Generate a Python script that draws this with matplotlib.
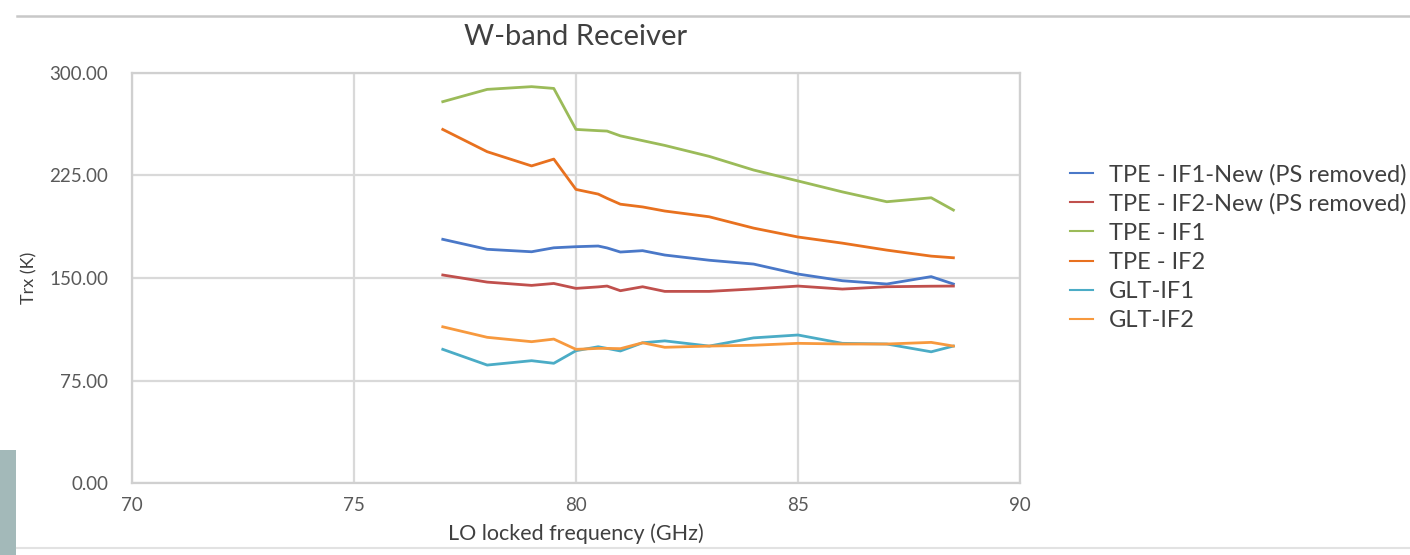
import matplotlib
matplotlib.use('Agg')
import matplotlib.pyplot as plt
from matplotlib.patches import Rectangle
from matplotlib.lines import Line2D

plt.rcParams['font.family'] = ['Lato', 'DejaVu Sans']

# LO frequencies (GHz) and receiver temperatures (K)
freq = [77, 78, 79, 79.5, 80, 80.5, 80.7, 81, 81.5, 82, 83, 84, 85, 86, 87, 88, 88.5]
tpe_if1_new = [178.3, 171.0, 169.2, 172.1, 172.9, 173.4, 172.0, 169.0, 170.0, 166.8,
               163.0, 160.2, 152.9, 148.0, 145.6, 151.0, 145.6]
tpe_if2_new = [152.2, 147.0, 144.6, 146.0, 142.4, 143.5, 144.1, 140.7, 143.6, 140.2,
               140.2, 142.0, 144.1, 141.9, 143.6, 144.0, 144.1]
tpe_if1 = [279.0, 288.0, 290.0, 288.7, 258.7, 257.8, 257.5, 254.0, 250.5, 247.0,
           239.0, 229.0, 221.0, 213.0, 205.8, 208.7, 199.7]
tpe_if2 = [258.7, 242.4, 232.0, 237.0, 214.8, 211.4, 208.3, 204.0, 202.0, 199.0,
           194.8, 186.5, 180.0, 175.5, 170.4, 166.0, 164.8]
glt_if1 = [97.8, 86.3, 89.5, 87.6, 96.8, 99.7, 98.5, 96.6, 102.6, 104.0,
           100.2, 106.2, 108.3, 102.2, 101.7, 96.0, 100.2]
glt_if2 = [114.3, 106.6, 103.4, 105.3, 97.8, 98.5, 98.5, 98.3, 102.6, 99.3,
           100.2, 100.8, 102.2, 101.7, 101.7, 102.9, 100.2]

labels = ['TPE - IF1-New (PS removed)', 'TPE - IF2-New (PS removed)', 'TPE - IF1',
          'TPE - IF2', 'GLT-IF1', 'GLT-IF2']
series = [tpe_if1_new, tpe_if2_new, tpe_if1, tpe_if2, glt_if1, glt_if2]
colors = ['#4a78c8', '#c0504d', '#9bbb59', '#e8711f', '#4bacc6', '#f7993e']

yticks = [0, 75, 150, 225, 300]
xticks = [70, 75, 80, 85, 90]

fig = plt.figure(figsize=(14.1, 5.55), dpi=100)
fig.patch.set_facecolor('white')
ax = fig.add_axes([0.0936, 0.1297, 0.6298, 0.7388])

for vals, lab, c in zip(series, labels, colors):
    ax.plot(freq, vals, color=c, lw=2.0, label=lab)

ax.set_xlim(70, 90)
ax.set_ylim(0, 300)
ax.set_xticks(xticks)
ax.set_yticks(yticks)
ax.set_yticklabels(['%.2f' % v for v in yticks])
ax.tick_params(length=0, labelsize=13.5, colors='#595959')
ax.tick_params(axis='y', pad=17)
ax.tick_params(axis='x', pad=10)
ax.grid(True, color='#d9d9d9', lw=1.6)
ax.set_axisbelow(True)
for s in ax.spines.values():
    s.set_color('#d0d0d0')
    s.set_linewidth(1.6)

ax.set_title('W-band Receiver', fontsize=21, color='#404040', pad=20)
ax.set_xlabel('LO locked frequency (GHz)', fontsize=15.5, color='#404040', labelpad=7)
ax.set_ylabel('Trx (K)', fontsize=13, color='#404040')
ax.yaxis.set_label_coords(-0.106, 0.5)

leg = ax.legend(loc='center left', bbox_to_anchor=(1.056, 0.575), frameon=False,
                fontsize=17, labelspacing=0.34, handlelength=1.0, handletextpad=0.65,
                borderpad=0, borderaxespad=0, labelcolor='#404040')
for h in leg.get_lines():
    h.set_linewidth(1.5)

# slide frame around the chart
fig.add_artist(Line2D([17 / 1410, 1], [1 - 16 / 555] * 2, color='#c8c8c8', lw=1.8))
fig.add_artist(Line2D([17 / 1410, 1], [1 - 548 / 555] * 2, color='#e2e2e2', lw=1.5))
fig.add_artist(Rectangle((0, 0), 16 / 1410, 105 / 555, color='#a3b9b9', lw=0))

fig.savefig('out.png', dpi=100)
